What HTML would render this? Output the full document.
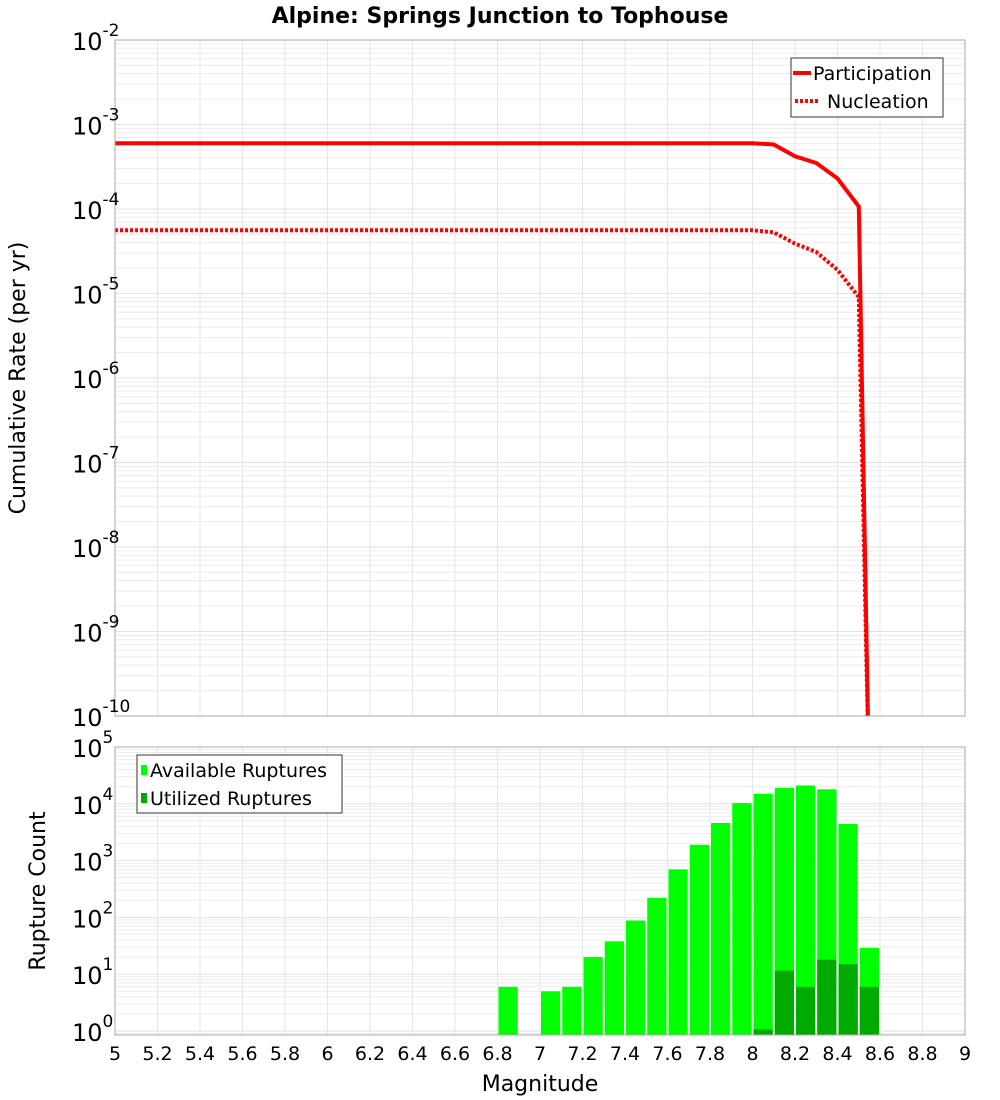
<!DOCTYPE html>
<html><head><meta charset="utf-8"><style>
html,body{margin:0;padding:0;background:#fff;}
svg{display:block;font-family:"DejaVu Sans","Liberation Sans",sans-serif;}
</style></head><body>
<svg id="c" width="1000" height="1100" viewBox="0 0 1000 1100" xmlns="http://www.w3.org/2000/svg"></svg>
<script>
const magTicks=["5","5.2","5.4","5.6","5.8","6","6.2","6.4","6.6","6.8","7","7.2","7.4","7.6","7.8","8","8.2","8.4","8.6","8.8","9"];
const partMag=[5.0,8.0,8.1,8.2,8.3,8.4,8.5,8.55];
const partRate=[6.0e-4,6.0e-4,5.8e-4,4.2e-4,3.5e-4,2.3e-4,1.07e-4,1e-11];
const nuclMag=[5.0,8.0,8.1,8.2,8.3,8.4,8.5,8.55];
const nuclRate=[5.6e-5,5.6e-5,5.3e-5,3.9e-5,3.1e-5,1.9e-5,9.1e-6,1e-11];
const binMag=[6.85,7.05,7.15,7.25,7.35,7.45,7.55,7.65,7.75,7.85,7.95,8.05,8.15,8.25,8.35,8.45,8.55];
const availCount=[6,5,6,20,38,88,220,700,1900,4600,10300,15000,19000,21000,18000,4400,29];
const utilMag=[8.05,8.15,8.25,8.35,8.45,8.55];
const utilCount=[1.07,11.5,6,18,15,6];
const topExp=[-2,-3,-4,-5,-6,-7,-8,-9,-10];
const botExp=[5,4,3,2,1,0];

const NS="http://www.w3.org/2000/svg";
const svg=document.getElementById('c');
function el(t,a,p){const e=document.createElementNS(NS,t);for(const k in a)e.setAttribute(k,a[k]);(p||svg).appendChild(e);return e;}
const X0=115,X1=965;
const xs=m=>X0+(m-5)/4*(X1-X0);
const T0=40,T1=716;
const yTop=v=>T0+(-2-Math.log10(v))/8*(T1-T0);
const B0=747,B1=1035,Bdec=56.8;
const yBot=v=>1031-Math.log10(v)*Bdec;

function grid(g,y0,y1,yf,expMin,expMax){
  for(let e=expMin;e<=expMax;e++){for(let k=1;k<10;k++){const v=k*Math.pow(10,e);const y=yf(v);if(y<y0-0.5||y>y1+0.5)continue;
    const l=el('line',{x1:X0,x2:X1,y1:y,y2:y,stroke:k==1?'#e2e2e2':'#ececec','stroke-width':1},g);
    }}
  for(let i=0;i<magTicks.length;i++){const x=xs(+magTicks[i]);
    const l=el('line',{x1:x,x2:x,y1:y0,y2:y1,stroke:'#e6e6e6','stroke-width':1},g);
    }
}
const title=el('text',{x:500,y:23,'text-anchor':'middle','font-size':22,'font-weight':'bold'});
title.textContent='Alpine: Springs Junction to Tophouse';


const gt=el('g',{});
grid(gt,T0,T1,yTop,-11,-3);
const ct=el('clipPath',{id:'ct'});el('rect',{x:X0,y:T0,width:X1-X0,height:T1-T0},ct);
function path(ms,vs,attrs,name){let d='';for(let i=0;i<ms.length;i++)d+=(i?'L':'M')+xs(ms[i]).toFixed(1)+','+yTop(vs[i]).toFixed(1);
  const p=el('path',Object.assign({d:d,fill:'none','clip-path':'url(#ct)'},attrs),gt);}
path(partMag,partRate,{stroke:'#ff0000','stroke-width':4},'participation-line');
path(nuclMag,nuclRate,{stroke:'#ff0000','stroke-width':4,'stroke-dasharray':'3,2'},'nucleation-line');
el('rect',{x:X0,y:T0,width:X1-X0,height:T1-T0,fill:'none',stroke:'#aaaaaa'},gt);
topExp.forEach(e=>{const y=yTop(Math.pow(10,e));
  const t=el('text',{x:72,y:y+10,'font-size':24},gt);t.textContent='10';
  const s=el('tspan',{dy:-14,'font-size':17},t);s.textContent=String(e);
  });
const yt=el('text',{transform:'translate(25,378) rotate(-90)','text-anchor':'middle','font-size':22});
yt.textContent='Cumulative Rate (per yr)';
const lg=el('g',{});
el('rect',{x:791,y:58,width:152,height:59,fill:'#fff',stroke:'#333'},lg);
el('line',{x1:793,x2:811,y1:73,y2:73,stroke:'#f00','stroke-width':4},lg);
el('line',{x1:795,x2:820,y1:101,y2:101,stroke:'#f00','stroke-width':4,'stroke-dasharray':'3,2'},lg);
let t1=el('text',{x:813,y:80,'font-size':19},lg);t1.textContent='Participation';
let t2=el('text',{x:827,y:108,'font-size':19},lg);t2.textContent='Nucleation';

const gb=el('g',{});
grid(gb,B0,B1,yBot,-1,4);
function bars(ms,vs,fill,name){for(let i=0;i<ms.length;i++){const xa=xs(ms[i]-0.05)+1,xb=xs(ms[i]+0.05)-1,y=yBot(vs[i]);
  const r=el('rect',{x:xa,y:y,width:xb-xa,height:B1-y,fill:fill},gb);}}
bars(binMag,availCount,'#00ff00','available-bar');
bars(utilMag,utilCount,'#00aa00','utilized-bar');
el('rect',{x:X0,y:B0,width:X1-X0,height:B1-B0,fill:'none',stroke:'#aaaaaa'},gb);
botExp.forEach(e=>{const y=yBot(Math.pow(10,e));
  const t=el('text',{x:72,y:y+10,'font-size':24},gb);t.textContent='10';
  const s=el('tspan',{dy:-14,'font-size':17},t);s.textContent=String(e);
  });
magTicks.forEach(m=>{const t=el('text',{x:xs(+m),y:1060,'text-anchor':'middle','font-size':19},gb);t.textContent=m;
  });
const yb=el('text',{transform:'translate(45,891) rotate(-90)','text-anchor':'middle','font-size':22});
yb.textContent='Rupture Count';
const xt=el('text',{x:540,y:1091,'text-anchor':'middle','font-size':22});
xt.textContent='Magnitude';
const lb=el('g',{});
el('rect',{x:137,y:755,width:205,height:58,fill:'#fff',stroke:'#333'},lb);
el('rect',{x:141,y:765,width:6,height:10,fill:'#00ff00'},lb);
el('rect',{x:141,y:793,width:6,height:10,fill:'#00aa00'},lb);
let t3=el('text',{x:150,y:777,'font-size':19},lb);t3.textContent='Available Ruptures';
let t4=el('text',{x:150,y:805,'font-size':19},lb);t4.textContent='Utilized Ruptures';
</script>
</body></html>
